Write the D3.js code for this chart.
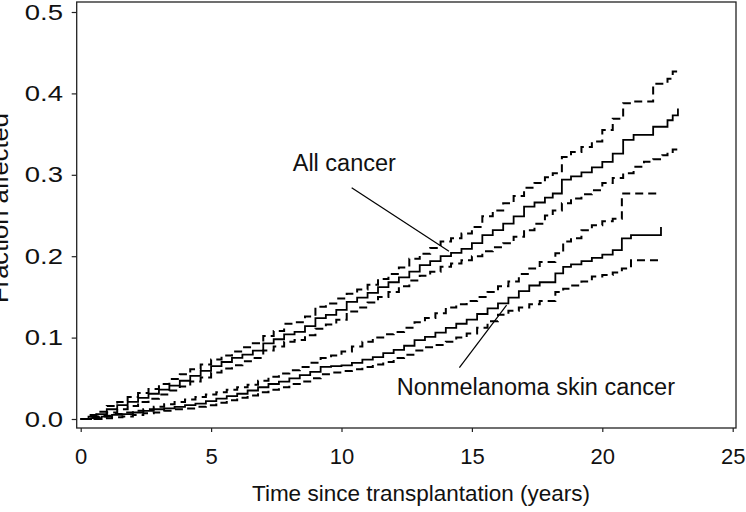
<!DOCTYPE html>
<html>
<head>
<meta charset="utf-8">
<script src="https://cdn.jsdelivr.net/npm/d3@7"></script>
<style>
  html, body { margin: 0; padding: 0; background: #fff; }
  svg { display: block; }
  text { font-family: "Liberation Sans", Arial, Helvetica, sans-serif; fill: #111; }
</style>
</head>
<body>
<div id="chart"></div>
<script>
// ---------- DATA ----------
const xTicks = [0, 5, 10, 15, 20, 25];
const yTicks = [0.0, 0.1, 0.2, 0.3, 0.4, 0.5];
const xTitle = "Time since transplantation (years)";
const yTitle = "Fraction affected";

// All cancer: event times (years) and cumulative fraction affected
const acTime = [0, 0.3, 0.6, 1.0, 1.4, 1.8, 2.2, 2.6, 3.0, 3.4, 3.8, 4.2, 4.6, 5.0, 5.4, 5.8, 6.2, 6.6,
  7.0, 7.4, 7.8, 8.2, 8.6, 9.0, 9.4, 9.8, 10.2, 10.6, 11.0, 11.4, 11.8, 12.2, 12.6, 13.0, 13.4, 13.8,
  14.2, 14.6, 15.0, 15.4, 15.8, 16.2, 16.6, 17.0, 17.4, 17.8, 18.1, 18.45, 18.8, 19.2, 19.6, 20.0,
  20.4, 20.8, 21.2, 21.6, 21.95, 22.3, 22.5, 22.7, 22.9];
const acEst = [0, 0.003, 0.006, 0.012, 0.017, 0.021, 0.026, 0.031, 0.036, 0.041, 0.047, 0.053, 0.059,
  0.065, 0.070, 0.075, 0.079, 0.084, 0.093, 0.098, 0.104, 0.107, 0.114, 0.124, 0.128, 0.134, 0.144,
  0.149, 0.155, 0.162, 0.168, 0.174, 0.181, 0.189, 0.194, 0.200, 0.204, 0.209, 0.216, 0.226, 0.232,
  0.240, 0.249, 0.261, 0.266, 0.272, 0.277, 0.294, 0.298, 0.303, 0.309, 0.316, 0.326, 0.343, 0.349,
  0.349, 0.359, 0.359, 0.367, 0.373, 0.3815];
const acUpper = [0, 0.005, 0.009, 0.016, 0.021, 0.027, 0.032, 0.037, 0.043, 0.049, 0.055, 0.061, 0.067,
  0.073, 0.078, 0.083, 0.088, 0.093, 0.102, 0.108, 0.117, 0.119, 0.126, 0.138, 0.142, 0.148, 0.154,
  0.159, 0.165, 0.172, 0.178, 0.186, 0.197, 0.203, 0.210, 0.218, 0.222, 0.228, 0.236, 0.249, 0.256,
  0.265, 0.274, 0.284, 0.290, 0.297, 0.302, 0.322, 0.328, 0.334, 0.341, 0.355, 0.369, 0.388, 0.390,
  0.390, 0.412, 0.412, 0.418, 0.427, 0.432];
const acLower = [0, 0.001, 0.003, 0.008, 0.012, 0.016, 0.021, 0.025, 0.030, 0.035, 0.040, 0.046, 0.051,
  0.057, 0.062, 0.066, 0.071, 0.075, 0.084, 0.089, 0.095, 0.097, 0.103, 0.111, 0.116, 0.122, 0.132,
  0.137, 0.143, 0.150, 0.156, 0.163, 0.170, 0.176, 0.181, 0.187, 0.191, 0.195, 0.200, 0.206, 0.211,
  0.216, 0.224, 0.232, 0.240, 0.250, 0.256, 0.265, 0.271, 0.276, 0.281, 0.290, 0.296, 0.302, 0.310,
  0.316, 0.319, 0.324, 0.328, 0.331, 0.3345];

// Nonmelanoma skin cancer
const nmTime = [0, 0.4, 0.8, 1.2, 1.6, 2.0, 2.4, 2.8, 3.2, 3.6, 4.0, 4.4, 4.8, 5.2, 5.6, 6.0, 6.4, 6.8,
  7.2, 7.6, 8.0, 8.4, 8.8, 9.2, 9.6, 10.0, 10.4, 10.8, 11.2, 11.6, 12.0, 12.4, 12.8, 13.2, 13.6, 14.0,
  14.4, 14.8, 15.2, 15.6, 16.0, 16.4, 16.8, 17.2, 17.6, 18.2, 18.5, 18.8, 19.2, 19.6, 20.0, 20.4,
  20.75, 21.1, 21.5, 21.9, 22.25];
const nmEst = [0, 0.001, 0.003, 0.005, 0.006, 0.008, 0.010, 0.012, 0.013, 0.015, 0.017, 0.019, 0.022,
  0.025, 0.028, 0.031, 0.035, 0.039, 0.043, 0.046, 0.050, 0.054, 0.058, 0.064, 0.065, 0.066, 0.069,
  0.073, 0.076, 0.081, 0.085, 0.090, 0.097, 0.101, 0.106, 0.112, 0.117, 0.122, 0.129, 0.136, 0.142,
  0.149, 0.157, 0.164, 0.168, 0.179, 0.187, 0.190, 0.194, 0.198, 0.202, 0.2075, 0.222, 0.226, 0.226,
  0.226, 0.236];
const nmUpper = [0, 0.002, 0.004, 0.006, 0.008, 0.010, 0.012, 0.015, 0.018, 0.021, 0.024, 0.027, 0.030,
  0.033, 0.036, 0.039, 0.042, 0.047, 0.052, 0.056, 0.060, 0.064, 0.069, 0.075, 0.078, 0.083, 0.089,
  0.095, 0.100, 0.104, 0.107, 0.112, 0.119, 0.124, 0.130, 0.137, 0.141, 0.145, 0.150, 0.156, 0.163,
  0.169, 0.178, 0.185, 0.193, 0.2035, 0.218, 0.222, 0.232, 0.238, 0.243, 0.246, 0.277, 0.277, 0.277,
  0.277, 0.277];
const nmLower = [0, 0.000, 0.001, 0.002, 0.003, 0.005, 0.007, 0.008, 0.010, 0.012, 0.013, 0.015, 0.017,
  0.020, 0.023, 0.026, 0.029, 0.033, 0.036, 0.039, 0.043, 0.046, 0.050, 0.055, 0.057, 0.059, 0.061,
  0.064, 0.067, 0.070, 0.075, 0.079, 0.084, 0.088, 0.091, 0.095, 0.100, 0.105, 0.112, 0.120, 0.128,
  0.133, 0.137, 0.141, 0.145, 0.156, 0.160, 0.164, 0.169, 0.175, 0.177, 0.180, 0.185, 0.195, 0.195,
  0.195, 0.195];

// Annotations (data units): label anchor and leader line end points
const annLabels = ["All cancer", "Nonmelanoma skin cancer"];
const annTextPos = [[8.13, 0.305], [12.12, 0.0295]];
const annLineFrom = [[10.39, 0.284], [14.52, 0.063]];
const annLineTo = [[14.12, 0.206], [16.33, 0.140]];

// ---------- CHART ----------
const W = 746, H = 512;
const frame = { left: 76.7, right: 736, top: 2, bottom: 428 };

const svg = d3.select("#chart").append("svg")
  .attr("width", W).attr("height", H);

const x = d3.scaleLinear().domain([0, 25]).range([80.7, 732.7]);
const y = d3.scaleLinear().domain([0, 0.5]).range([419, 12]);

// frame
svg.append("rect")
  .attr("x", frame.left).attr("y", frame.top)
  .attr("width", frame.right - frame.left).attr("height", frame.bottom - frame.top)
  .attr("fill", "none").attr("stroke", "#222").attr("stroke-width", 1.3);

// axes
const xAxis = d3.axisBottom(x).tickValues(xTicks).tickSize(4).tickPadding(16)
  .tickFormat(d3.format("d"));
const gx = svg.append("g").attr("transform", `translate(0,${frame.bottom})`).call(xAxis);
gx.select(".domain").remove();

const yAxis = d3.axisLeft(y).tickValues(yTicks).tickSize(5).tickPadding(8)
  .tickFormat(d3.format(".1f"));
const gy = svg.append("g").attr("transform", `translate(${frame.left},0)`).call(yAxis);
gy.select(".domain").remove();

[gx, gy].forEach(g => {
  g.selectAll("line").attr("stroke", "#222").attr("stroke-width", 1.2);
  g.selectAll("text").style("font-size", "22px").attr("fill", "#111")
    .style("font-family", '"Liberation Sans", Arial, sans-serif');
});
// y tick labels are drawn wider in the reference
const yStretch = 1.25;
gy.selectAll(".tick text")
  .attr("x", -13.7 / yStretch)
  .attr("transform", `scale(${yStretch},1)`);

// axis titles
svg.append("text")
  .attr("x", 421).attr("y", 501)
  .attr("text-anchor", "middle").style("font-size", "22.5px").text(xTitle);

svg.append("text")
  .attr("transform", `translate(8,208) rotate(-90)`)
  .attr("text-anchor", "middle").style("font-size", "23px")
  .attr("textLength", 190).attr("lengthAdjust", "spacingAndGlyphs")
  .text(yTitle);

// step curves
const line = d3.line().x(d => x(d[0])).y(d => y(d[1])).curve(d3.curveStepAfter);
const series = [
  { t: acTime, v: acUpper, dashed: true },
  { t: acTime, v: acEst, dashed: false },
  { t: acTime, v: acLower, dashed: true },
  { t: nmTime, v: nmUpper, dashed: true },
  { t: nmTime, v: nmEst, dashed: false },
  { t: nmTime, v: nmLower, dashed: true }
];
series.forEach(s => {
  svg.append("path")
    .datum(s.t.map((t, i) => [t, s.v[i]]))
    .attr("d", line)
    .attr("fill", "none")
    .attr("stroke", "#000")
    .attr("stroke-width", s.dashed ? 2 : 1.8)
    .attr("stroke-dasharray", s.dashed ? "8,5" : null);
});

// annotations
annLabels.forEach((lab, i) => {
  svg.append("line")
    .attr("x1", x(annLineFrom[i][0])).attr("y1", y(annLineFrom[i][1]))
    .attr("x2", x(annLineTo[i][0])).attr("y2", y(annLineTo[i][1]))
    .attr("stroke", "#000").attr("stroke-width", 1.2);
  svg.append("text")
    .attr("x", x(annTextPos[i][0])).attr("y", y(annTextPos[i][1]))
    .style("font-size", "23.5px").text(lab);
});
</script>
</body>
</html>
